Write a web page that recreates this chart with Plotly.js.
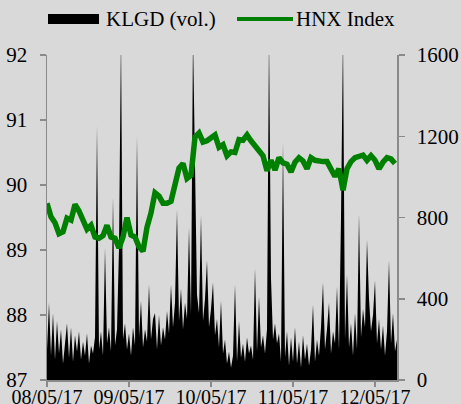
<!DOCTYPE html>
<html>
<head>
<meta charset="utf-8">
<script src="https://cdn.plot.ly/plotly-3.0.1.min.js"></script>
<style>html,body{margin:0;padding:0;background:#d9d9d9;}#chart{width:461px;height:404px;}</style>
</head>
<body>
<div id="chart"></div>
<script>
// Time axis: sample index (41 samples per trading day)
var dayLabels = ["08/05/17", "09/05/17", "10/05/17", "11/05/17", "12/05/17"];
var dayStartIdx = [0, 41, 82, 123, 164];

// KLGD (vol.) — trading volume, one value per sample
var volume = [
  150,380,120,330,100,290,130,250,80,200,280,110,260,90,220,140,240,100,190,120,230,80,170,
  130,210,1250,150,240,120,650,180,260,140,900,170,250,650,1700,200,280,150,230,120,260,170,1200,210,390,160,250,190,470,200,300,330,150,320,170,260,
  200,340,230,470,260,380,840,290,450,250,380,300,750,320,1700,1000,420,330,810,290,400,590,260,350,480,220,300,160,390,130,200,80,
  140,60,120,470,90,290,110,180,90,210,130,170,100,550,140,410,160,220,130,250,1700,500,200,280,180,230,
  90,1170,110,240,70,210,90,260,80,190,60,220,100,180,70,150,370,90,200,120,260,480,150,250,380,130,240,180,460,150,800,1700,200,520,160,280,120,330,150,820,210,350,260,690,400,240,320,490,180,300,150,270,120,240,590,180,330,140,200
];

// HNX Index — one value every 2 samples
var hnxIndex = [
  89.72,89.51,89.42,89.25,89.28,89.49,89.46,89.70,89.60,89.48,
  89.32,89.38,89.20,89.18,89.22,89.38,89.20,89.18,89.03,89.20,
  89.50,89.23,89.20,89.05,88.98,89.35,89.57,89.88,89.83,89.72,
  89.72,89.75,89.97,90.26,90.33,90.10,90.15,90.74,90.80,90.66,
  90.68,90.72,90.77,90.58,90.62,90.45,90.51,90.50,90.70,90.69,
  90.77,90.68,90.60,90.54,90.45,90.22,90.38,90.23,90.42,90.34,
  90.32,90.20,90.35,90.42,90.37,90.25,90.42,90.38,90.36,90.36,
  90.36,90.24,90.13,90.25,89.92,90.25,90.36,90.42,90.45,90.46,
  90.38,90.45,90.38,90.25,90.35,90.42,90.40,90.33
];

var volX = volume.map(function(_, i){ return i; });
var idxX = hnxIndex.map(function(_, i){ return i * 2; });

var font = {family: "Liberation Serif, Times New Roman, serif", size: 21, color: "#000"};
var xfont = {family: "Liberation Serif, Times New Roman, serif", size: 20, color: "#000"};
var axisGray = "#8a8a8a";

var traces = [
  {
    x: volX, y: volume, name: "KLGD (vol.)", type: "scatter", mode: "lines",
    fill: "tozeroy", fillcolor: "#000", line: {color: "#000", width: 0},
    yaxis: "y", showlegend: false, hoverinfo: "skip"
  },
  {
    x: idxX, y: hnxIndex, name: "HNX Index", type: "scatter", mode: "lines",
    line: {color: "#008000", width: 5.5}, yaxis: "y2", showlegend: false
  }
];

function px2x(p){ return (p - 47) / 350; }
function px2y(p){ return (380 - p) / 325; }

var layout = {
  width: 461, height: 404,
  margin: {l: 47, r: 64, t: 55, b: 24, pad: 0},
  paper_bgcolor: "#d9d9d9", plot_bgcolor: "#d9d9d9",
  font: font,
  showlegend: false,
  xaxis: {
    range: [0, 175], tickmode: "array", tickvals: dayStartIdx, ticktext: dayLabels,
    ticks: "outside", ticklen: 5, tickwidth: 1.5, tickcolor: axisGray,
    showline: true, linecolor: axisGray, linewidth: 1.5, showgrid: false, zeroline: false,
    tickfont: xfont, ticklabelstandoff: -7
  },
  yaxis: {
    side: "right", range: [0, 1600], dtick: 400, tick0: 0,
    ticks: "outside", ticklen: 6, tickwidth: 1.5, tickcolor: axisGray,
    showline: true, linecolor: axisGray, linewidth: 1.5, showgrid: false, zeroline: false,
    tickfont: font, ticklabelstandoff: 8
  },
  yaxis2: {
    overlaying: "y", side: "left", range: [87, 92], dtick: 1, tick0: 87,
    ticks: "outside", ticklen: 6, tickwidth: 1.5, tickcolor: axisGray,
    showline: true, linecolor: axisGray, linewidth: 1.5, showgrid: false, zeroline: false,
    tickfont: font, ticklabelstandoff: 8
  },
  shapes: [
    {type: "rect", xref: "paper", yref: "paper", x0: px2x(48), x1: px2x(99), y0: px2y(24), y1: px2y(14),
     fillcolor: "#000", line: {width: 0}},
    {type: "line", xref: "paper", yref: "paper", x0: px2x(237), x1: px2x(293), y0: px2y(19), y1: px2y(19),
     line: {color: "#008000", width: 4}}
  ],
  annotations: [
    {text: "KLGD (vol.)", xref: "paper", yref: "paper", x: px2x(104), y: px2y(19),
     xanchor: "left", yanchor: "middle", showarrow: false, font: font},
    {text: "HNX Index", xref: "paper", yref: "paper", x: px2x(294), y: px2y(19),
     xanchor: "left", yanchor: "middle", showarrow: false, font: font}
  ]
};

Plotly.newPlot("chart", traces, layout, {displayModeBar: false, staticPlot: true});
</script>
</body>
</html>
